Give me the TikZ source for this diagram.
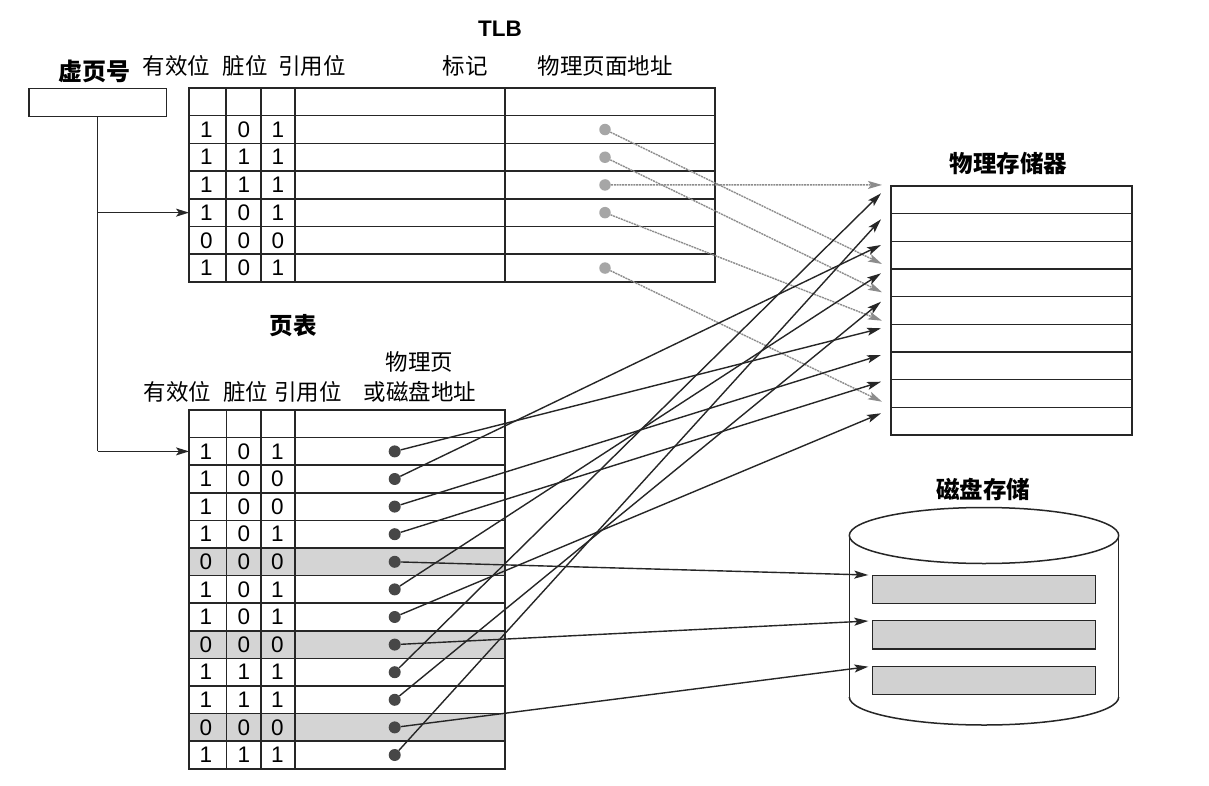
\documentclass[tikz,border=0pt]{standalone}
\usepackage{fontspec}
\setmainfont{Liberation Sans}
\newfontfamily\cjk{Noto Sans CJK SC}
\usetikzlibrary{arrows.meta}
\begin{document}
\begin{tikzpicture}[x=1pt,y=-1pt,
  tline/.style={line width=1.5pt, draw=black!85},
  thin line/.style={line width=1.3pt, draw=black!85},
  pdot/.style={circle, fill=black!72, inner sep=0pt, minimum size=12pt},
  gdot/.style={circle, fill=black!35, inner sep=0pt, minimum size=11.5pt},
  barrow/.style={line width=1.4pt, draw=black!85, -{Stealth[length=14pt,width=8pt,inset=3pt]}},
  garrow/.style={line width=1.4pt, draw=black!45, dash pattern=on 2pt off 0.8pt, -{Stealth[length=14pt,width=8pt,inset=3pt]}},
  digit/.style={font=\fontsize{22.5}{24}\selectfont, inner sep=0pt},
  hdr/.style={font=\cjk\fontsize{22.5}{26}\selectfont, inner sep=0pt},
  ttl/.style={font=\cjk\bfseries\fontsize{23.5}{26}\selectfont, inner sep=0pt}]
\useasboundingbox (0,0) rectangle (1209,786);
\fill[white] (0,0) rectangle (1209,786);

% ---------- labels ----------
\node[inner sep=0pt, font=\bfseries\fontsize{22.5}{24}\selectfont] (tlbl) at (500,28.3) {TLB};
\node[ttl, font=\cjk\bfseries\fontsize{24}{26}\selectfont] (vpnl) at (94.8,71) {虚页号};
\node[hdr] (h1) at (176.5,65.7) {有效位};
\node[hdr] (h2) at (245.3,65.7) {脏位};
\node[hdr] (h3) at (312,65.7) {引用位};
\node[hdr] (h4) at (465,65.7) {标记};
\node[hdr] (h5) at (605,65.7) {物理页面地址};
\node[ttl] (ptl) at (293.3,325.7) {页表};
\node[hdr] (ph0) at (419.3,362.3) {物理页};
\node[hdr] (ph1) at (177.5,391.7) {有效位};
\node[hdr] (ph2) at (245.8,391.7) {脏位};
\node[hdr] (ph3) at (307.8,391.7) {引用位};
\node[hdr] (ph4) at (420,391.7) {或磁盘地址};
\node[ttl] (pml) at (1008.3,164) {物理存储器};
\node[ttl] (dkl) at (983.3,489.3) {磁盘存储};

% ---------- virtual page number ----------
\node[draw, tline, minimum width=137.6pt, minimum height=28.4pt, inner sep=0pt] (vpn) at (97.8,102.5) {};

% ---------- TLB ----------
\foreach \i in {1,...,6} \draw[tline] (189,{88+27.7*\i}) -- (715,{88+27.7*\i});
\draw[tline] (189,88) rectangle (715,281.9);
\foreach \xx in {226,261,295,505} \draw[tline] (\xx,88) -- (\xx,281.9);
\foreach \r/\a/\b/\c in {1/1/0/1,2/1/1/1,3/1/1/1,4/1/0/1,5/0/0/0,6/1/0/1}{
  \node[digit] (ta\r) at (206.5,{88+27.7*(\r+0.5)}) {\a};
  \node[digit] (tb\r) at (244,{88+27.7*(\r+0.5)}) {\b};
  \node[digit] (tc\r) at (278,{88+27.7*(\r+0.5)}) {\c};
}
\foreach \r in {1,2,3,4,6} \node[gdot] (g\r) at (605,{88+27.7*(\r+0.5)}) {};

% ---------- page table ----------
\foreach \r in {5,8,11} \fill[black!17] (189,{410+27.6*\r}) rectangle (505,{410+27.6*(\r+1)});
\foreach \i in {1,...,12} \draw[tline] (189,{410+27.6*\i}) -- (505,{410+27.6*\i});
\draw[tline] (189,410) rectangle (505,768.8);
\foreach \xx in {226.5,261,295} \draw[tline] (\xx,410) -- (\xx,768.8);
\foreach \r/\a/\b/\c in {1/1/0/1,2/1/0/0,3/1/0/0,4/1/0/1,5/0/0/0,6/1/0/1,7/1/0/1,8/0/0/0,9/1/1/1,10/1/1/1,11/0/0/0,12/1/1/1}{
  \node[digit] (pa\r) at (206,{410+27.6*(\r+0.5)}) {\a};
  \node[digit] (pb\r) at (243.8,{410+27.6*(\r+0.5)}) {\b};
  \node[digit] (pc\r) at (277.5,{410+27.6*(\r+0.5)}) {\c};
}
\foreach \r in {1,...,12} \node[pdot] (p\r) at (394.7,{410+27.6*(\r+0.5)}) {};

% ---------- VPN connectors ----------
\coordinate (j1) at (97.8,212.65);
\coordinate (j2) at (97.8,451.4);
\coordinate (tlbin) at (189,212.65);
\coordinate (ptin) at (189,451.4);
\draw[thin line] (vpn.south) -- (j2);
\draw[thin line, -{Stealth[length=13pt,width=8pt,inset=3pt]}] (j1) -- (tlbin);
\draw[thin line, -{Stealth[length=13pt,width=8pt,inset=3pt]}] (j2) -- (ptin);

% ---------- physical memory ----------
\draw[tline] (891,186) rectangle (1132,435);
\foreach \i in {1,...,8} \draw[tline] (891,{186+27.67*\i}) -- (1132,{186+27.67*\i});

% ---------- disk ----------
\draw[tline] (984,535.5) ellipse [x radius=134.7pt, y radius=28pt];
\draw[tline] (849.3,535.5) -- (849.3,697);
\draw[tline] (1118.7,535.5) -- (1118.7,697);
\begin{scope}
  \clip (830,697) rectangle (1140,740);
  \draw[tline] (984,697) ellipse [x radius=134.7pt, y radius=28pt];
\end{scope}
\draw[tline, fill=black!18] (872.7,575.3) rectangle (1095.7,603.3);
\draw[tline, fill=black!18] (872.7,620.7) rectangle (1095.7,649);
\draw[tline, fill=black!18] (872.7,666.7) rectangle (1095.7,694.3);

% ---------- arrow targets ----------
\coordinate (m1) at (881,193.3);
\coordinate (m2) at (881,219.3);
\coordinate (m3) at (881,245);
\coordinate (m4) at (881,273.3);
\coordinate (m5) at (881,301.7);
\coordinate (m6) at (881,328.3);
\coordinate (m7) at (881,355);
\coordinate (m8) at (881,381.7);
\coordinate (m9) at (881,413.3);
\coordinate (gm1) at (882,184.95);
\coordinate (gm2) at (882,264);
\coordinate (gm3) at (882,292.3);
\coordinate (gm4) at (882,320.7);
\coordinate (gm5) at (882,401.7);
\coordinate (dk1) at (868.3,575);
\coordinate (dk2) at (868.3,621);
\coordinate (dk3) at (868.3,666.7);

% ---------- TLB arrows ----------
\draw[garrow] (g1) -- (gm2);
\draw[garrow] (g2) -- (gm3);
\draw[garrow] (g3) -- (gm1);
\draw[garrow] (g4) -- (gm4);
\draw[garrow] (g6) -- (gm5);

% ---------- page table arrows ----------
\draw[barrow] (p1) -- (m6);
\draw[barrow] (p2) -- (m3);
\draw[barrow] (p3) -- (m7);
\draw[barrow] (p4) -- (m8);
\draw[barrow] (p6) -- (m4);
\draw[barrow] (p7) -- (m9);
\draw[barrow] (p9) -- (m1);
\draw[barrow] (p10) -- (m5);
\draw[barrow] (p12) -- (m2);
\draw[barrow] (p5) -- (dk1);
\draw[barrow] (p8) -- (dk2);
\draw[barrow] (p11) -- (dk3);
\end{tikzpicture}
\end{document}
